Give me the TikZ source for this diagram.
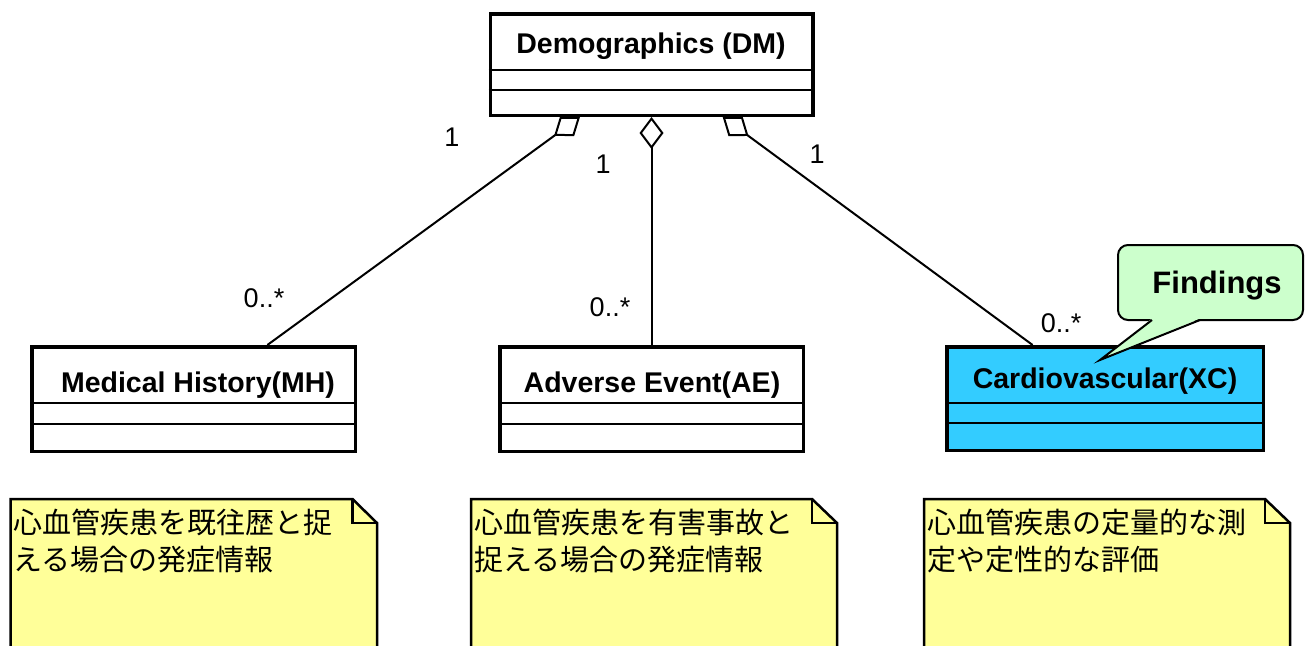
\documentclass[tikz,border=0pt]{standalone}
\usepackage{fontspec}
\setmainfont{Liberation Sans}
\newfontfamily\jpfont{Noto Sans CJK JP}
\usetikzlibrary{arrows.meta,calc}
\definecolor{notey}{HTML}{FFFF99}
\definecolor{xcblue}{HTML}{33CCFF}
\definecolor{callg}{HTML}{CCFFCC}
\begin{document}
\begin{tikzpicture}[x=1pt,y=-1pt,
  classbox/.style={draw, line width=3.5pt, inner sep=0pt, fill=white},
  classname/.style={font=\fontsize{28.5}{30}\selectfont\bfseries, inner sep=0pt, anchor=base},
  comp/.style={line width=2pt},
  agg/.style={line width=2pt, -{Diamond[open, length=32pt, width=24pt, line join=miter]}},
  mult/.style={font=\fontsize{27}{28}\selectfont, inner sep=0pt},
  note/.style={fill=notey, draw, line width=2.5pt, line join=miter},
  fold/.style={draw, line width=2.5pt, line join=miter},
  notetext/.style={font=\jpfont\fontsize{29}{37}\selectfont, align=left, inner sep=0pt, anchor=base west},
  callout/.style={fill=callg, draw, line width=2pt}
]
\useasboundingbox (0,0) rectangle (1305,645);
\fill[white] (0,0) rectangle (1305,645);
\clip (0,0) rectangle (1305,645);

% class boxes
\node[classbox, minimum width=322.5pt, minimum height=101.5pt] (dm) at (651.5,64.5) {};
\node[classbox, minimum width=323.5pt, minimum height=104.5pt] (mh) at (193.5,399) {};
\node[classbox, minimum width=303.5pt, minimum height=104.5pt] (ae) at (651.5,399) {};
\node[classbox, fill=xcblue, minimum width=316.5pt, minimum height=103.5pt] (xc) at (1105,398.5) {};

\node[classname] (dmname) at (651,53) {Demographics (DM)};
\node[classname] (mhname) at (198,392) {Medical History(MH)};
\node[classname] (aename) at (652,392) {Adverse Event(AE)};
\node[classname] (xcname) at (1105,388) {Cardiovascular(XC)};

% compartments
\draw[comp] ($(dm.north west)+(0,58)$) -- ($(dm.north east)+(0,58)$);
\draw[comp] ($(dm.north west)+(0,78)$) -- ($(dm.north east)+(0,78)$);
\draw[comp] ($(mh.north west)+(0,58)$) -- ($(mh.north east)+(0,58)$);
\draw[comp] ($(mh.north west)+(0,79)$) -- ($(mh.north east)+(0,79)$);
\draw[comp] ($(ae.north west)+(0,58)$) -- ($(ae.north east)+(0,58)$);
\draw[comp] ($(ae.north west)+(0,79)$) -- ($(ae.north east)+(0,79)$);
\draw[comp] ($(xc.north west)+(0,58)$) -- ($(xc.north east)+(0,58)$);
\draw[comp] ($(xc.north west)+(0,78)$) -- ($(xc.north east)+(0,78)$);

% aggregations
\draw[agg] (mh) -- (dm);
\draw[agg] (ae) -- (dm);
\draw[agg] (xc) -- (dm);

% multiplicities
\node[mult] (m1) at (452,137) {1};
\node[mult] (m2) at (264,298) {0..*};
\node[mult] (m3) at (603,164) {1};
\node[mult] (m4) at (610,307) {0..*};
\node[mult] (m5) at (817,154) {1};
\node[mult] (m6) at (1061,323) {0..*};

% callout
\filldraw[callout, rounded corners=10pt] (1118,245) rectangle (1303,320);
\fill[callg] (1152,318.5) -- (1100,360) -- (1200,318.5) -- cycle;
\draw[line width=2pt, line join=miter] (1152,320) -- (1100,360) -- (1200,320);
\node[font=\fontsize{31}{32}\selectfont\bfseries, inner sep=0pt, anchor=base] (findings) at (1217,293) {Findings};

% notes
\filldraw[note] (10.5,660) -- (10.5,499) -- (352.5,499) -- (377,523) -- (377,660) -- cycle;
\draw[fold] (352.5,499) -- (352.5,523) -- (377,523);
\filldraw[note] (471,660) -- (471,499) -- (812,499) -- (837,523) -- (837,660) -- cycle;
\draw[fold] (812,499) -- (812,523) -- (837,523);
\filldraw[note] (924,660) -- (924,499) -- (1265,499) -- (1290,523) -- (1290,660) -- cycle;
\draw[fold] (1265,499) -- (1265,523) -- (1290,523);

\node[notetext] (n1) at (13,570) {心血管疾患を既往歴と捉\\える場合の発症情報};
\node[notetext] (n2) at (474,570) {心血管疾患を有害事故と\\捉える場合の発症情報};
\node[notetext] (n3) at (927,570) {心血管疾患の定量的な測\\定や定性的な評価};
\end{tikzpicture}
\end{document}
